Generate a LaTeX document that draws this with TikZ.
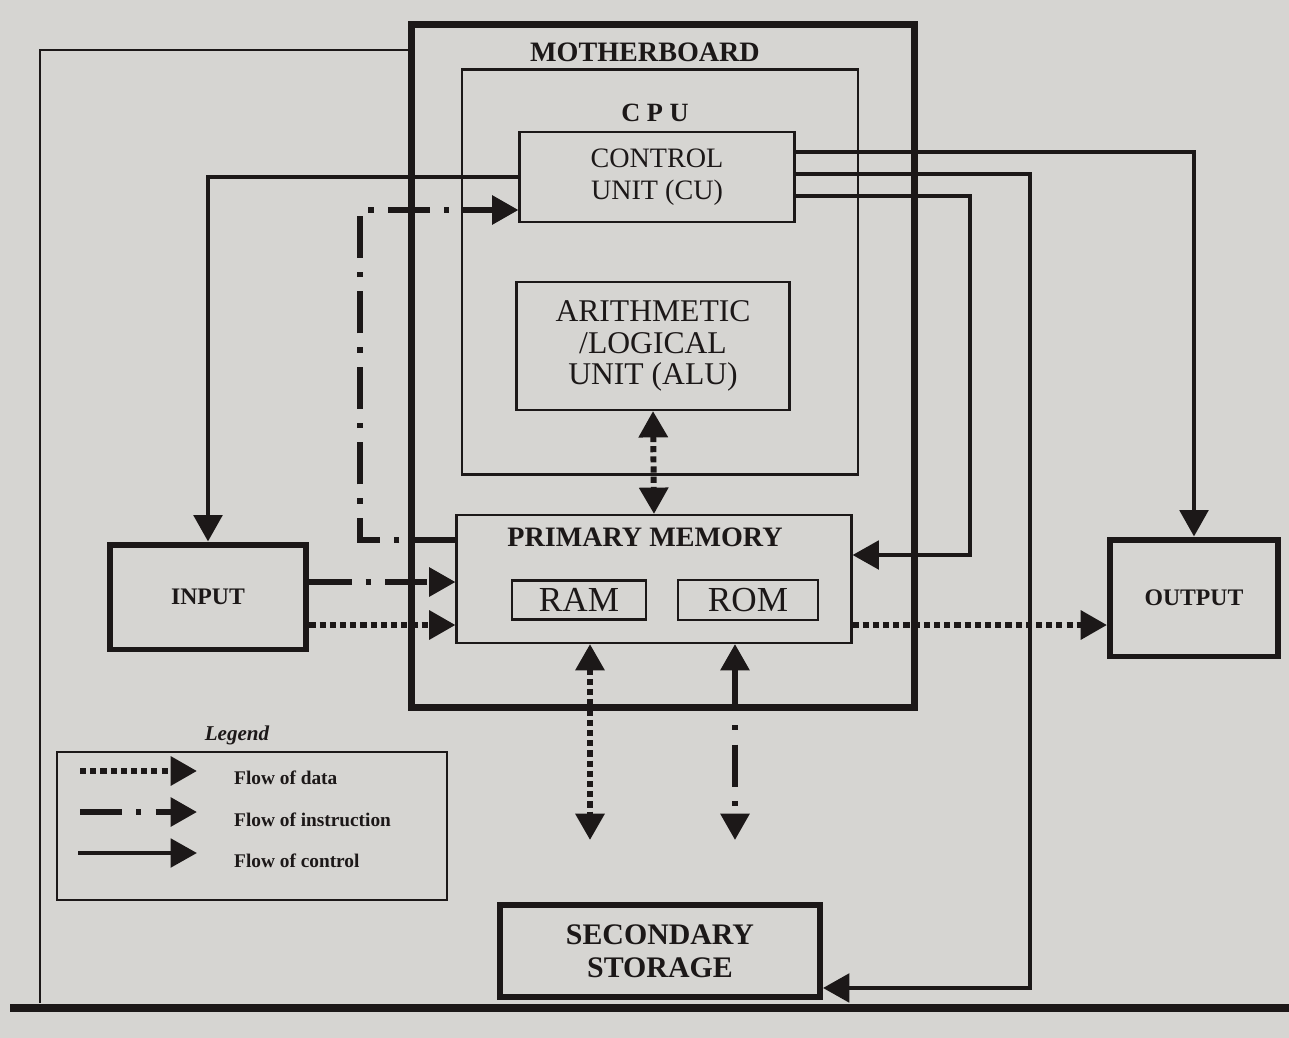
\documentclass[tikz,border=0pt]{standalone}
\usepackage{fontspec}
\setmainfont{Liberation Serif}
\usetikzlibrary{arrows.meta}
\usetikzlibrary{calc}
\definecolor{ink}{RGB}{28,24,24}
\definecolor{paper}{RGB}{214,213,210}

\begin{document}
\begin{tikzpicture}[x=0.02cm,y=-0.02cm,
  box/.style={draw=ink,text=ink,line width=1.2pt,inner sep=0pt},
  heavybox/.style={draw=ink,text=ink,line width=3.4pt,inner sep=0pt},
  lbl/.style={text=ink,font=\bfseries\fontsize{16}{18}\selectfont},
  legtxt/.style={text=ink,anchor=west,font=\bfseries\fontsize{11}{13}\selectfont},
  tip/.style={-{Triangle[length=15pt,width=16pt]}},
  twotip/.style={{Triangle[length=15pt,width=16pt]}-{Triangle[length=15pt,width=16pt]}},
  ctrl/.style={draw=ink,line width=2.8pt,tip},
  data/.style={draw=ink,line width=3.4pt,dash pattern=on 3.5pt off 2.3pt},
  instr/.style={draw=ink,line width=3.2pt,dash pattern=on 24pt off 8pt on 3pt off 8pt}]
\useasboundingbox (0,0) rectangle (1289,1038);
\fill[paper] (0,0) rectangle (1289,1038);
\draw[ink,line width=1pt] (40,1003) -- (40,50) -- (412,50);
\draw[ink,line width=4pt] (10,1008) -- (1289,1008);

\node[draw=ink,line width=4pt,minimum width=10.06cm,minimum height=13.66cm] (mb) at (663,366) {};
\node[lbl] (mbl) at (645,52) {MOTHERBOARD};
\node[box,line width=1.6pt,minimum width=7.92cm,minimum height=8.1cm] (cpu) at (660,272) {};
\node[lbl,font=\bfseries\fontsize{15}{17}\selectfont] (cpul) at (655,113) {C P U};
\node[box,minimum width=5.5cm,minimum height=1.8cm,align=center,font=\fontsize{16}{18}\selectfont] (cu) at (657,177) {CONTROL\\UNIT (CU)};
\node[box,minimum width=5.46cm,minimum height=2.56cm,align=center,font=\fontsize{18}{18}\selectfont] (alu) at (653,346) {ARITHMETIC\\/LOGICAL\\UNIT (ALU)};
\node[box,minimum width=7.9cm,minimum height=2.56cm] (pm) at (654,579) {};
\node[lbl] (pml) at (645,537) {PRIMARY MEMORY};
\node[box,minimum width=2.68cm,minimum height=0.78cm,font=\fontsize{20}{20}\selectfont] (ram) at (579,600) {RAM};
\node[box,minimum width=2.8cm,minimum height=0.8cm,font=\fontsize{20}{20}\selectfont] (rom) at (748,600) {ROM};
\node[heavybox,minimum width=3.94cm,minimum height=2.1cm,font=\bfseries\fontsize{13.5}{15}\selectfont] (input) at (208,597) {INPUT};
\node[heavybox,minimum width=3.36cm,minimum height=2.34cm,font=\bfseries\fontsize{13.5}{15}\selectfont] (output) at (1194,598) {OUTPUT};
\node[heavybox,minimum width=6.4cm,minimum height=1.84cm,align=center,font=\bfseries\fontsize{17}{19}\selectfont] (sec) at (660,951) {SECONDARY\\STORAGE};

\coordinate (rbus) at (1030,0);
\coordinate (mbus) at (970,0);
\coordinate (ibus) at (360,0);
\coordinate (secin) at ($(sec.south east)+(0,-12)$);
\coordinate (pmin) at ($(pm.east)+(0,-24)$);
\coordinate (cuin) at ($(cu.west)+(0,33)$);
\coordinate (pmi) at ($(pm.west)+(0,3)$);
\coordinate (pmd) at ($(pm.west)+(0,46)$);
\coordinate (ramdn) at (590,840);
\coordinate (romdn) at (735,840);

\draw[ctrl] (cu.west) -| (input.north);
\draw[ctrl] ($(cu.east)+(0,-25)$) -| (output.north);
\draw[ctrl] ($(cu.east)+(0,-3)$) -| (rbus |- secin) -- (secin);
\draw[ctrl] ($(cu.east)+(0,19)$) -| (mbus |- pmin) -- (pmin);

\draw[instr,tip] ($(pm.west)+(0,-39)$) -| (ibus |- cuin) -- (cuin);
\draw[instr,tip] (input.east |- pmi) -- (pmi);
\draw[data,tip] (input.east |- pmd) -- (pmd);
\draw[data,tip] (pm.east |- pmd) -- (output.west |- pmd);
\draw[data,twotip] (alu.south) -- (pm.north);
\draw[data,twotip] (pm.south -| ramdn) -- (ramdn);
\draw[instr,twotip] (pm.south -| romdn) -- (romdn);

\node[box,minimum width=7.8cm,minimum height=2.96cm] (leg) at (252,826) {};
\node[text=ink,font=\bfseries\itshape\fontsize{12}{14}\selectfont] (legl) at (237,735) {Legend};
\coordinate (d0) at (80,771);
\coordinate (d1) at (197,771);
\coordinate (i0) at (80,812);
\coordinate (i1) at (197,812);
\coordinate (c0) at (78,853);
\coordinate (c1) at (197,853);
\draw[data,tip] (d0) -- (d1);
\draw[instr,tip] (i0) -- (i1);
\draw[ctrl] (c0) -- (c1);
\node[legtxt] (ldata) at (228,778) {Flow of data};
\node[legtxt] (linstr) at (228,820) {Flow of instruction};
\node[legtxt] (lctrl) at (228,861) {Flow of control};
\end{tikzpicture}
\end{document}
